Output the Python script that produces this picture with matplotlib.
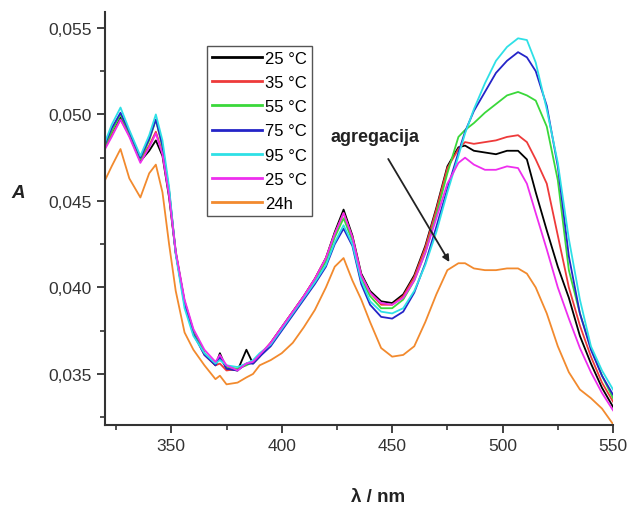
import matplotlib
matplotlib.use("Agg")
import matplotlib.pyplot as plt
from matplotlib.ticker import MultipleLocator, FuncFormatter

plt.rcParams['font.family'] = ['Liberation Sans', 'DejaVu Sans']

# valna duljina (nm)
wl = [320, 323, 327, 331, 336, 340, 343, 346, 349, 352,
      356, 360, 365, 370, 372, 375, 380, 384, 387, 390,
      395, 400, 405, 410, 415, 420, 424, 428, 432, 436,
      440, 445, 450, 455, 460, 465, 470, 475, 480, 483,
      487, 492, 497, 502, 507, 511, 515, 520, 525, 530,
      535, 540, 545, 550]

a_25 = [.0481, .0488, .0498, .0488, .0473, .0479, .0485, .0476, .0452, .0420,
        .0392, .0375, .0362, .0355, .0362, .0353, .0352, .0364, .0356, .0360,
        .0368, .0377, .0386, .0395, .0405, .0417, .0432, .0445, .0430, .0408,
        .0398, .0392, .0391, .0396, .0407, .0424, .0446, .0470, .0481, .0482,
        .0479, .0478, .0477, .0479, .0479, .0474, .0455, .0433, .0412, .0394,
        .0372, .0356, .0342, .0331]

a_35 = [.0482, .0488, .0497, .0488, .0474, .0482, .0490, .0478, .0454, .0420,
        .0391, .0374, .0361, .0355, .0356, .0352, .0353, .0356, .0357, .0361,
        .0368, .0377, .0386, .0395, .0405, .0417, .0431, .0443, .0429, .0407,
        .0397, .0390, .0390, .0395, .0406, .0423, .0445, .0469, .0480, .0484,
        .0483, .0484, .0485, .0487, .0488, .0484, .0474, .0460, .0430, .0400,
        .0378, .0360, .0345, .0334]

a_55 = [.0482, .0490, .0500, .0489, .0474, .0485, .0497, .0481, .0456, .0421,
        .0391, .0374, .0362, .0356, .0359, .0354, .0353, .0355, .0357, .0361,
        .0367, .0376, .0385, .0394, .0404, .0415, .0429, .0440, .0427, .0405,
        .0395, .0388, .0388, .0393, .0404, .0420, .0442, .0466, .0487, .0491,
        .0495, .0501, .0506, .0511, .0513, .0511, .0508, .0493, .0462, .0410,
        .0385, .0365, .0349, .0336]

a_75 = [.0483, .0492, .0501, .0490, .0475, .0486, .0497, .0482, .0456, .0420,
        .0390, .0373, .0361, .0355, .0360, .0353, .0352, .0356, .0356, .0360,
        .0366, .0375, .0384, .0393, .0402, .0412, .0425, .0434, .0424, .0402,
        .0390, .0383, .0382, .0386, .0397, .0414, .0435, .0457, .0478, .0490,
        .0502, .0513, .0524, .0531, .0536, .0533, .0525, .0505, .0470, .0418,
        .0385, .0364, .0349, .0338]

a_95 = [.0484, .0494, .0504, .0491, .0476, .0488, .0500, .0485, .0458, .0419,
        .0388, .0372, .0362, .0356, .0358, .0355, .0354, .0356, .0358, .0362,
        .0367, .0376, .0385, .0394, .0403, .0413, .0426, .0436, .0425, .0404,
        .0392, .0386, .0385, .0388, .0398, .0413, .0432, .0455, .0476, .0489,
        .0503, .0518, .0531, .0539, .0544, .0543, .0530, .0503, .0472, .0428,
        .0393, .0366, .0352, .0341]

a_25b = [.0480, .0487, .0497, .0487, .0472, .0481, .0489, .0477, .0453, .0421,
         .0393, .0376, .0364, .0357, .0361, .0355, .0352, .0356, .0357, .0361,
         .0368, .0377, .0386, .0395, .0405, .0417, .0431, .0443, .0429, .0407,
         .0397, .0391, .0390, .0394, .0404, .0420, .0440, .0460, .0472, .0475,
         .0471, .0468, .0468, .0470, .0469, .0460, .0443, .0422, .0400, .0382,
         .0365, .0351, .0339, .0329]

a_24h = [.0462, .0470, .0480, .0463, .0452, .0466, .0471, .0455, .0425, .0398,
         .0374, .0364, .0355, .0347, .0349, .0344, .0345, .0348, .0350, .0355,
         .0358, .0362, .0368, .0377, .0387, .0400, .0412, .0417, .0404, .0393,
         .0380, .0365, .0360, .0361, .0366, .0380, .0396, .0410, .0414, .0414,
         .0411, .0410, .0410, .0411, .0411, .0408, .0400, .0385, .0366, .0351,
         .0341, .0336, .0330, .0321]

labels = ["25 °C", "35 °C", "55 °C", "75 °C", "95 °C", "25 °C", "24h"]
series = [a_25, a_35, a_55, a_75, a_95, a_25b, a_24h]
colors = ["#000000", "#ee3a3a", "#3ad83a", "#2424c8", "#2ee0e6", "#ee2eee", "#f28a2e"]

fig = plt.figure(figsize=(6.29, 5.10), dpi=100)
ax = fig.add_axes([0.167, 0.1647, 0.8076, 0.8098])

for y, c, lab in zip(series, colors, labels):
    ax.plot(wl, y, color=c, lw=1.3, label=lab)

ax.set_xlim(320, 550)
ax.set_ylim(0.03205, 0.05592)
ax.xaxis.set_major_locator(MultipleLocator(50))
ax.xaxis.set_minor_locator(MultipleLocator(25))
ax.yaxis.set_major_locator(MultipleLocator(0.005))
ax.yaxis.set_minor_locator(MultipleLocator(0.0025))
ax.yaxis.set_major_formatter(FuncFormatter(lambda v, p: ("%.3f" % v).replace(".", ",")))

for s in ["top", "right"]:
    ax.spines[s].set_visible(False)
for s in ["left", "bottom"]:
    ax.spines[s].set_linewidth(1.5)
    ax.spines[s].set_color("#333333")
ax.tick_params(which="major", direction="out", length=6, width=1.3, colors="#333333",
               labelsize=12.5, labelcolor="#333333")
ax.tick_params(which="minor", direction="out", length=3.5, width=1.2, colors="#333333")

ax.set_xlabel("λ / nm", fontsize=13.5, fontweight="bold", color="#222222", va="center")
ax.xaxis.set_label_coords(0.537, -0.174)
ax.set_ylabel("A", fontsize=13.5, fontweight="bold", fontstyle="italic", rotation=0,
              color="#222222", va="center", ha="center")
ax.yaxis.set_label_coords(-0.171, 0.564)

leg = ax.legend(loc="upper left", bbox_to_anchor=(0.2008, 0.9177), fontsize=12,
                frameon=True, fancybox=False, edgecolor="#555555", framealpha=1,
                handlelength=3.0, handletextpad=0.2, labelspacing=0.55,
                borderpad=0.3, borderaxespad=0)
leg.get_frame().set_linewidth(1.0)
for line in leg.get_lines():
    line.set_linewidth(2.0)

ax.annotate("agregacija", xy=(475.9, 0.04147), xytext=(442.3, 0.0487),
            fontsize=13, fontweight="bold", ha="center", va="center", color="#222222",
            arrowprops=dict(arrowstyle="-|>", color="#222222", lw=1.3,
                            shrinkA=9, shrinkB=0, mutation_scale=10))

fig.savefig("out.png", dpi=100)
